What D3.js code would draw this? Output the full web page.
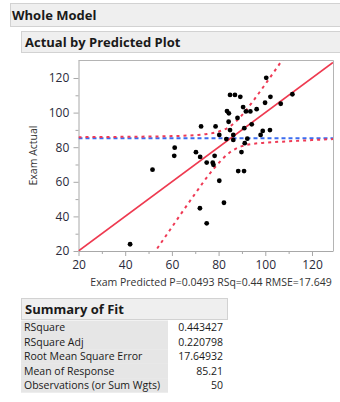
<!DOCTYPE html>
<html>
<head>
<meta charset="utf-8">
<script src="https://cdn.jsdelivr.net/npm/d3@7"></script>
<style>
  body { margin: 0; background: #fff; }
  svg { display: block; font-family: "Open Sans", "Noto Sans", sans-serif; }
</style>
</head>
<body>
<div id="chart"></div>
<script>
// scatter: predicted (x) vs actual (y)
const predicted = [42.1, 51.7, 61.2, 61.0, 70.3, 72.1, 72.5, 72.0, 74.9, 74.9, 77.5, 77.8, 78.3, 78.7, 80.3, 80.3,
  82.3, 83.3, 83.6, 84.4, 84.3, 84.9, 84.9, 86.3, 86.3, 87.0, 88.1, 88.4, 89.3, 89.8, 90.5, 90.9,
  91.0, 91.2, 91.7, 92.3, 93.6, 94.2, 96.3, 98.0, 98.9, 99.9, 100.4, 102.2, 102.0, 106.6, 111.6];
const actual = [23.9, 67.0, 79.7, 75.0, 77.1, 74.4, 92.0, 44.7, 71.1, 36.0, 71.0, 69.8, 75.0, 92.0, 87.1, 60.6,
  47.9, 84.7, 100.9, 99.6, 94.7, 110.2, 89.9, 87.1, 84.2, 110.2, 96.9, 66.2, 109.1, 77.2, 103.2, 66.2,
  91.0, 82.3, 100.7, 84.9, 100.7, 93.2, 102.0, 87.1, 89.4, 105.7, 120.1, 109.1, 89.9, 105.1, 110.6];

const meanResponse = 85.21;
// fit line (actual = predicted)
const fitLine = [[20, 20], [129, 129]];
// confidence curves
const upperCurve = [[20, 85.8], [40, 86.0], [60, 86.4], [70, 87.0], [75, 87.6], [80, 89.0], [85, 92.1],
  [90, 98.5], [95, 107.1], [100, 116.4], [105, 126.0], [108, 131.9]];
const lowerCurve = [[52, 18.1], [55, 24.0], [60, 33.8], [65, 43.6], [70, 53.2], [75, 62.6], [80, 70.8],
  [85, 77.2], [90, 80.6], [95, 82.0], [100, 82.6], [110, 83.4], [120, 84.1], [129, 84.7]];

const xTicks = [20, 40, 60, 80, 100, 120];
const yTicks = [20, 40, 60, 80, 100, 120];

const fitLabels = ["RSquare", "RSquare Adj", "Root Mean Square Error", "Mean of Response", "Observations (or Sum Wgts)"];
const fitValues = ["0.443427", "0.220798", "17.64932", "85.21", "50"];

const W = 340, H = 402;
const svg = d3.select("#chart").append("svg").attr("width", W).attr("height", H);

// outline headers
svg.append("rect").attr("x", 10.5).attr("y", 3.5).attr("width", 330).attr("height", 23)
  .attr("fill", "#efefef").attr("stroke", "#d2d2d2");
svg.append("text").attr("x", 12).attr("y", 20).attr("font-size", 13).attr("font-weight", "bold")
  .attr("fill", "#1a1a1a").text("Whole Model");
svg.append("rect").attr("x", 21.5).attr("y", 31.5).attr("width", 320).attr("height", 21)
  .attr("fill", "#efefef").attr("stroke", "#d2d2d2");
svg.append("text").attr("x", 25).attr("y", 47).attr("font-size", 13).attr("font-weight", "bold")
  .attr("fill", "#1a1a1a").text("Actual by Predicted Plot");

// plot
const x = d3.scaleLinear().domain([20, 129]).range([78.5, 333]);
const y = d3.scaleLinear().domain([20, 130.4]).range([251, 60]);

const plot = svg.append("g");
plot.append("defs").append("clipPath").attr("id", "clip")
  .append("rect").attr("x", 78.5).attr("y", 60).attr("width", 333 - 78.5).attr("height", 251 - 60);

// axes
const xAxis = plot.append("g").attr("transform", "translate(0,251)")
  .call(d3.axisBottom(x).tickValues(d3.range(20, 130, 10)).tickSize(5).tickSizeOuter(0)
    .tickFormat(d => xTicks.includes(d) ? d : ""));
const yAxis = plot.append("g").attr("transform", "translate(78.5,0)")
  .call(d3.axisLeft(y).tickValues(d3.range(20, 130, 10)).tickSize(5).tickSizeOuter(0)
    .tickFormat(d => yTicks.includes(d) ? d : ""));
[xAxis, yAxis].forEach(a => {
  a.select(".domain").attr("stroke", "#a8a8a8");
  a.selectAll(".tick line").attr("stroke", "#a8a8a8");
  a.selectAll("text").attr("font-size", 12).attr("fill", "#2a2a3a")
    .attr("font-family", "'Open Sans', sans-serif");
});
xAxis.selectAll(".tick").filter(d => !xTicks.includes(d)).select("line").attr("y2", 3);
yAxis.selectAll(".tick").filter(d => !yTicks.includes(d)).select("line").attr("x2", -3);
xAxis.selectAll("text").attr("dy", "0.8em");
yAxis.selectAll("text").attr("dx", "-0.1em");

// frame top/right
plot.append("path").attr("d", `M78.5,60.5H333.5V251`).attr("fill", "none").attr("stroke", "#b4b4b4");

const g = plot.append("g").attr("clip-path", "url(#clip)");
const line = d3.line().x(d => x(d[0])).y(d => y(d[1]));
const curve = d3.line().x(d => x(d[0])).y(d => y(d[1])).curve(d3.curveMonotoneX);

// mean line
g.append("line").attr("x1", x(20)).attr("x2", x(129)).attr("y1", y(meanResponse)).attr("y2", y(meanResponse))
  .attr("stroke", "#3b6cf0").attr("stroke-width", 2).attr("stroke-dasharray", "4,3");

g.append("path").attr("d", curve(upperCurve)).attr("fill", "none")
  .attr("stroke", "#ee3a55").attr("stroke-width", 2).attr("stroke-dasharray", "3,4");
g.append("path").attr("d", curve(lowerCurve)).attr("fill", "none")
  .attr("stroke", "#ee3a55").attr("stroke-width", 2).attr("stroke-dasharray", "3,4");

g.append("path").attr("d", line(fitLine)).attr("fill", "none")
  .attr("stroke", "#ee3a50").attr("stroke-width", 1.6);

g.selectAll("circle.pt").data(predicted.map((p, i) => [p, actual[i]])).enter()
  .append("circle").attr("class", "pt")
  .attr("cx", d => x(d[0])).attr("cy", d => y(d[1])).attr("r", 2.4).attr("fill", "#000");

// axis titles
svg.append("text").attr("transform", `translate(37,${(60 + 251) / 2}) rotate(-90)`)
  .attr("text-anchor", "middle").attr("font-size", 10.5).attr("fill", "#333").text("Exam Actual");
svg.append("text").attr("x", 211).attr("y", 285.5).attr("text-anchor", "middle")
  .attr("font-size", 10.5).attr("fill", "#333").text("Exam Predicted P=0.0493 RSq=0.44 RMSE=17.649");

// summary of fit
svg.append("rect").attr("x", 21.5).attr("y", 298.5).attr("width", 206).attr("height", 21)
  .attr("fill", "#efefef").attr("stroke", "#d2d2d2");
svg.append("text").attr("x", 25).attr("y", 314).attr("font-size", 13).attr("font-weight", "bold")
  .attr("fill", "#1a1a1a").text("Summary of Fit");

const rowH = 14.4, rowTop = 320.5;
const rows = svg.append("g").selectAll("g").data(fitLabels).enter().append("g")
  .attr("transform", (d, i) => `translate(0,${rowTop + i * rowH})`);
rows.append("rect").attr("x", 21).attr("y", 0).attr("width", 147).attr("height", rowH + 0.2).attr("fill", "#e6e6e6");
rows.append("text").attr("x", 24).attr("y", rowH - 3.5).attr("font-size", 10.5).attr("fill", "#1a1a1a").text(d => d);
rows.append("text").attr("x", 223).attr("y", rowH - 3.5).attr("text-anchor", "end").attr("font-size", 10.5)
  .attr("fill", "#1a1a1a").text((d, i) => fitValues[i]);
</script>
</body>
</html>
